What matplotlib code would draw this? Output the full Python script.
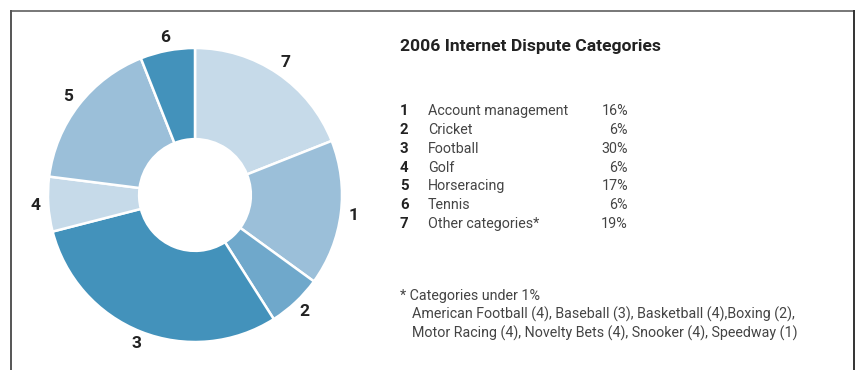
import matplotlib
matplotlib.use('Agg')
import matplotlib.pyplot as plt
from matplotlib.lines import Line2D

plt.rcParams['font.family'] = ['Roboto', 'DejaVu Sans']

# categories and shares (%)
numbers = ['1', '2', '3', '4', '5', '6', '7']
names = ['Account management', 'Cricket', 'Football', 'Golf',
         'Horseracing', 'Tennis', 'Other categories*']
shares = [16, 6, 30, 6, 17, 6, 19]

# order of slices going clockwise from the top
pie_order = [6, 0, 1, 2, 3, 4, 5]
colors = ['#9bbfd9', '#6fa8cb', '#4392bb', '#c6dae9', '#9bbfd9', '#4392bb', '#c6dae9']

title = '2006 Internet Dispute Categories'
note_head = '* Categories under 1%'
note_lines = ['American Football (4), Baseball (3), Basketball (4),Boxing (2),',
              'Motor Racing (4), Novelty Bets (4), Snooker (4), Speedway (1)']

W, H = 859, 370
fig = plt.figure(figsize=(W / 100, H / 100), dpi=100)

# pie axes, centre at (195, 195) px, outer radius ~147 px
r_px = 147
lim = 1.1
size = 2 * lim * r_px
cx, cy = 195, H - 195
ax = fig.add_axes([(cx - size / 2) / W, (cy - size / 2) / H, size / W, size / H])
ax.set_aspect('equal')
ax.axis('off')

vals = [shares[i] for i in pie_order]
cols = [colors[i] for i in pie_order]
labs = [numbers[i] for i in pie_order]
wedges, texts = ax.pie(vals, colors=cols, labels=labs, startangle=90, counterclock=False,
                       labeldistance=1.09, radius=1,
                       wedgeprops=dict(width=0.62, edgecolor='white', linewidth=1.8),
                       textprops=dict(fontsize=12.5, fontweight='bold', color='#222222'))
for t in texts:
    t.set_ha('center')
    t.set_va('center')
ax.set_xlim(-lim, lim)
ax.set_ylim(-lim, lim)

# frame (open at the bottom)
top = 1 - 11 / H
fig.add_artist(Line2D([11 / W, 854 / W], [top, top], color='#777777', lw=1.4))
fig.add_artist(Line2D([11 / W, 11 / W], [0, top], color='#555555', lw=1.4))
fig.add_artist(Line2D([854 / W, 854 / W], [0, top], color='#333333', lw=1.4))

# title and legend table
def fy(y):
    return 1 - y / H

fs = 10.3
fig.text(400 / W, fy(46), title, fontsize=12.6, fontweight='bold', color='#222222', va='center')
row_y = [111, 130, 149, 168, 186, 205, 224]
for i in range(len(numbers)):
    y = fy(row_y[i])
    fig.text(400 / W, y, numbers[i], fontsize=fs + 0.5, fontweight='bold', color='#222222', va='center')
    fig.text(428 / W, y, names[i], fontsize=fs, color='#444444', va='center')
    fig.text(628 / W, y, '%d%%' % shares[i], fontsize=fs, color='#444444', va='center', ha='right')

fig.text(400 / W, fy(296), note_head, fontsize=fs, color='#444444', va='center')
for j, line in enumerate(note_lines):
    fig.text(412 / W, fy(314 + 19 * j), line, fontsize=fs, color='#444444', va='center')

fig.savefig('out.png', dpi=100, facecolor='white')
